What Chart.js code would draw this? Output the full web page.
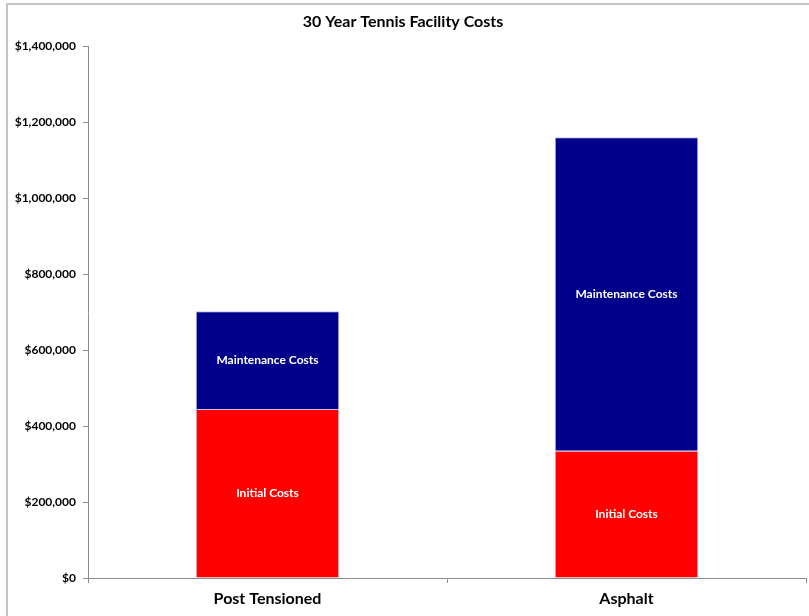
<!DOCTYPE html>
<html>
<head>
<meta charset="utf-8">
<script src="https://cdn.jsdelivr.net/npm/chart.js@4"></script>
<style>
  html, body { margin: 0; padding: 0; background: #fff; }
  #wrap { width: 809px; height: 616px; position: relative; }
</style>
</head>
<body>
<div id="wrap"><canvas id="costChart"></canvas></div>
<script>
// data
const categories = ['Post Tensioned', 'Asphalt'];
const initialCosts = [445000, 335000];
const maintenanceCosts = [257000, 825000];
const yTicks = [0, 200000, 400000, 600000, 800000, 1000000, 1200000, 1400000];

const FONT = "Lato, 'Open Sans', sans-serif";

function money(v) {
  return '$' + Number(v).toLocaleString('en-US');
}

// outer frame lines (top + left) like the spreadsheet chart border
const framePlugin = {
  id: 'frame',
  beforeDraw(chart) {
    const ctx = chart.ctx;
    ctx.save();
    ctx.strokeStyle = '#c4c4c4';
    ctx.lineWidth = 2;
    ctx.beginPath();
    ctx.moveTo(7, 616);
    ctx.lineTo(7, 4);
    ctx.lineTo(809, 4);
    ctx.stroke();
    ctx.restore();
  }
};

// write the series name in the middle of every segment
const segLabels = {
  id: 'segLabels',
  afterDatasetsDraw(chart) {
    const ctx = chart.ctx;
    ctx.save();
    ctx.fillStyle = '#ffffff';
    ctx.font = 'bold 12px ' + FONT;
    ctx.textAlign = 'center';
    ctx.textBaseline = 'middle';
    chart.data.datasets.forEach((ds, i) => {
      chart.getDatasetMeta(i).data.forEach(bar => {
        const p = bar.getProps(['x', 'y', 'base'], true);
        ctx.fillText(ds.label, p.x, (p.y + p.base) / 2);
      });
    });
    ctx.restore();
  }
};

new Chart(document.getElementById('costChart'), {
  type: 'bar',
  data: {
    labels: categories,
    datasets: [
      { label: 'Initial Costs', data: initialCosts, backgroundColor: '#ff0000',
        borderColor: 'rgba(190,190,215,0.9)', borderWidth: 1 },
      { label: 'Maintenance Costs', data: maintenanceCosts, backgroundColor: '#00008b',
        borderColor: 'rgba(190,190,215,0.9)', borderWidth: 1 }
    ]
  },
  options: {
    responsive: true,
    maintainAspectRatio: false,
    animation: false,
    layout: { padding: { top: 4, right: 3, left: 0, bottom: 0 } },
    datasets: { bar: { categoryPercentage: 1, barPercentage: 0.4 } },
    plugins: {
      legend: { display: false },
      tooltip: { enabled: false },
      title: {
        display: true,
        text: '30 Year Tennis Facility Costs',
        color: '#000',
        font: { family: FONT, size: 16, weight: 'bold' },
        padding: { top: 8, bottom: 15 }
      }
    },
    scales: {
      x: {
        stacked: true,
        border: { display: true, color: '#8c8c8c', width: 1 },
        grid: { drawOnChartArea: false, tickLength: 5, color: '#8c8c8c' },
        ticks: { color: '#000', padding: 6, font: { family: FONT, size: 16, weight: 'bold' } },
        afterFit(s) { s.height = 38; }
      },
      y: {
        stacked: true,
        min: 0,
        max: 1400000,
        border: { display: true, color: '#8c8c8c', width: 1 },
        grid: { drawOnChartArea: false, tickLength: 5, color: '#8c8c8c' },
        afterBuildTicks(s) { s.ticks = yTicks.map(v => ({ value: v })); },
        ticks: {
          color: '#000',
          padding: 7,
          font: { family: FONT, size: 12, weight: 'bold' },
          callback: v => money(v)
        },
        afterFit(s) { s.width = 88; }
      }
    }
  },
  plugins: [framePlugin, segLabels]
});
</script>
</body>
</html>
